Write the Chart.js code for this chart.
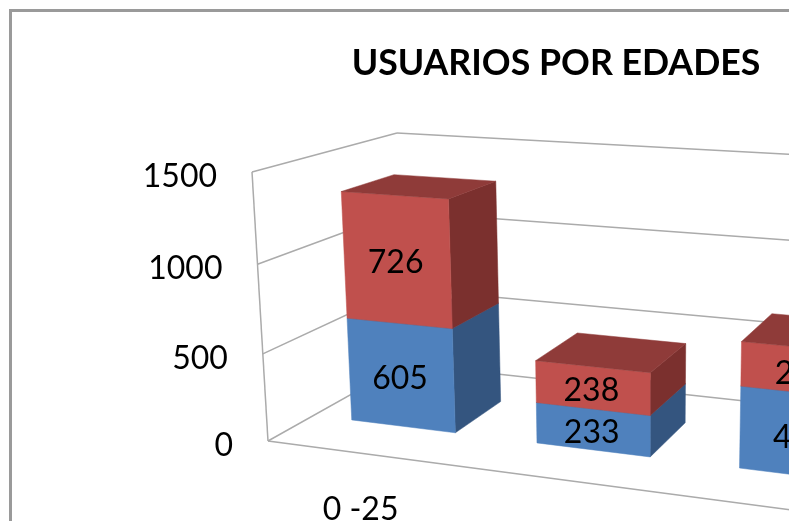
<!DOCTYPE html>
<html lang="es">
<head>
<meta charset="utf-8">
<title>Usuarios por edades</title>
<script src="https://cdn.jsdelivr.net/npm/chart.js@4"></script>
<style>
    html, body { margin: 0; padding: 0; background: #fff; overflow: hidden; }
    #frame { position: absolute; left: 9px; top: 9px; width: 1092px; height: 700px; border: 3px solid #9a9a9a; }
    #chart { position: absolute; left: 0; top: 0; filter: blur(0.5px); }
</style>
</head>
<body>
<div id="frame"></div>
<canvas id="chart" width="1112" height="521"></canvas>
<script>
const categories = ['0 -25', '', ''];
const seriesBlue = [605, 233, 450];
const seriesRed = [726, 238, 240];
const yTicks = [0, 500, 1000, 1500];

// vanishing points and weights of the 3D box, measured on the picture
const ORIGIN = [268, 441];
const VP_X = [-3800, -95];
const VP_Y = [640, 6700];
const VP_D = [1207, -85];
const W_X = -0.1335, W_Y = -0.04121, W_D = 0.1716;
const BAR_FRONT = 0.30, BAR_BACK = 0.68;

const project = (chart, px, py, d) => {
    const area = chart.chartArea;
    const q = W_X * (px - area.left) / area.width;
    const s = W_Y * (area.bottom - py) / area.height;
    const r = W_D * d;
    const w = 1 + q + s + r;
    return [
        (ORIGIN[0] + q * VP_X[0] + s * VP_Y[0] + r * VP_D[0]) / w,
        (ORIGIN[1] + q * VP_X[1] + s * VP_Y[1] + r * VP_D[1]) / w
    ];
};

const polygon = (ctx, points, fill) => {
    ctx.beginPath();
    points.forEach((p, i) => i ? ctx.lineTo(p[0], p[1]) : ctx.moveTo(p[0], p[1]));
    ctx.closePath();
    ctx.fillStyle = fill;
    ctx.fill();
    ctx.strokeStyle = fill;
    ctx.lineWidth = 0.5;
    ctx.stroke();
};

const drawBox = (chart, bar, colors) => {
    const ctx = chart.ctx;
    const l = bar.x - bar.width / 2, r = bar.x + bar.width / 2;
    const p = (x, y, d) => project(chart, x, y, d);
    polygon(ctx, [p(r, bar.base, BAR_FRONT), p(r, bar.base, BAR_BACK), p(r, bar.y, BAR_BACK), p(r, bar.y, BAR_FRONT)], colors.side);
    polygon(ctx, [p(l, bar.base, BAR_FRONT), p(r, bar.base, BAR_FRONT), p(r, bar.y, BAR_FRONT), p(l, bar.y, BAR_FRONT)], colors.front);
    polygon(ctx, [p(l, bar.y, BAR_FRONT), p(r, bar.y, BAR_FRONT), p(r, bar.y, BAR_BACK), p(l, bar.y, BAR_BACK)], colors.top);
};

const box3d = {
    id: 'box3d',
    beforeDatasetsDraw(chart) {
        const ctx = chart.ctx;
        const area = chart.chartArea;
        const y = chart.scales.y;
        const line = (a, b) => {
            ctx.beginPath();
            ctx.moveTo(a[0], a[1]);
            ctx.lineTo(b[0], b[1]);
            ctx.stroke();
        };

        ctx.save();
        ctx.strokeStyle = '#ababab';
        ctx.lineWidth = 1.5;
        y.ticks.forEach((tick) => {
            const py = y.getPixelForValue(tick.value);
            line(project(chart, area.left, py, 0), project(chart, area.left, py, 1));
            line(project(chart, area.left, py, 1), project(chart, area.right, py, 1));
        });
        line(project(chart, area.left, area.top, 0), project(chart, area.left, area.bottom, 0));
        line(project(chart, area.left, area.bottom, 0), project(chart, area.right, area.bottom, 0));

        const blue = chart.getDatasetMeta(0).data;
        const red = chart.getDatasetMeta(1).data;
        blue.forEach((bar, i) => {
            drawBox(chart, bar, { front: '#4f81bd', side: '#34557f', top: '#3f6797' });
            drawBox(chart, red[i], { front: '#c0504d', side: '#7b302e', top: '#8f3b39' });
        });

        // value labels on the front faces
        ctx.fillStyle = '#000';
        ctx.font = '32px Lato';
        ctx.textAlign = 'center';
        ctx.textBaseline = 'middle';
        chart.data.datasets.forEach((ds, n) => {
            chart.getDatasetMeta(n).data.forEach((bar, i) => {
                const c = project(chart, bar.x, (bar.y + bar.base) / 2, BAR_FRONT);
                ctx.fillText(ds.data[i], c[0] - 1, c[1] + 3);
            });
        });

        // tick labels follow the front edge of the box
        ctx.textAlign = 'right';
        y.ticks.forEach((tick) => {
            const c = project(chart, area.left, y.getPixelForValue(tick.value), 0);
            ctx.fillText(String(tick.value), c[0] - 35, c[1] + 5);
        });
        ctx.textAlign = 'center';
        chart.data.labels.forEach((label, i) => {
            const c = project(chart, chart.scales.x.getPixelForTick(i), area.bottom, 0);
            ctx.fillText(label, c[0], c[1] + 56);
        });
        ctx.restore();
        return false;
    }
};

new Chart(document.getElementById('chart').getContext('2d'), {
    type: 'bar',
    data: {
        labels: categories,
        datasets: [
            { label: 'Serie1', data: seriesBlue, backgroundColor: '#4f81bd' },
            { label: 'Serie2', data: seriesRed, backgroundColor: '#c0504d' }
        ]
    },
    options: {
        responsive: false,
        animation: false,
        datasets: { bar: { barPercentage: 0.57, categoryPercentage: 1 } },
        plugins: {
            legend: { display: false },
            tooltip: { enabled: false },
            title: {
                display: true,
                text: 'USUARIOS POR EDADES',
                color: '#000',
                font: { family: 'Lato', size: 35.7, weight: 'bold' },
                padding: { top: 42, bottom: 10 }
            }
        },
        scales: {
            x: { stacked: true, grid: { display: false }, border: { display: false }, ticks: { display: false } },
            y: {
                stacked: true,
                min: yTicks[0],
                max: yTicks[yTicks.length - 1],
                afterBuildTicks: (axis) => { axis.ticks = yTicks.map((value) => ({ value })); },
                grid: { display: false },
                border: { display: false },
                ticks: { display: false }
            }
        }
    },
    plugins: [box3d]
});
</script>
</body>
</html>
